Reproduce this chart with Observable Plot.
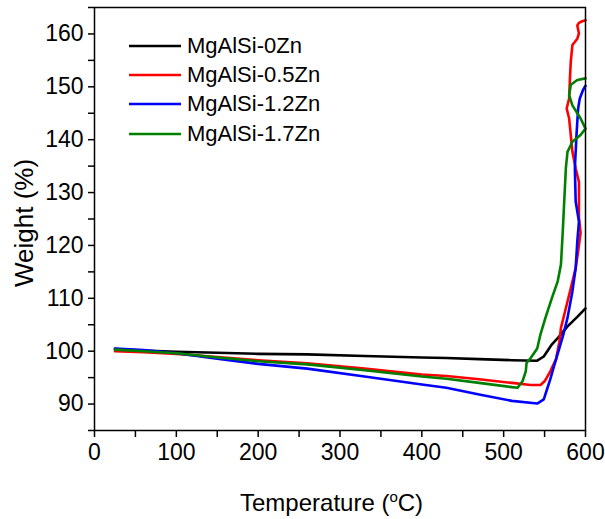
<!DOCTYPE html>
<html><head><meta charset="utf-8">
<script src="https://cdn.jsdelivr.net/npm/d3@7"></script>
<script src="https://cdn.jsdelivr.net/npm/@observablehq/plot@0.6"></script>
<style>
body{margin:0;background:#fff;}
#wrap{position:relative;width:605px;height:519px;font-family:"Liberation Sans",Arial,sans-serif;}
#legend{position:absolute;left:129px;top:31px;}
.item{display:flex;align-items:center;height:29.3px;font-size:22px;color:#000;}
.item svg{margin-right:6px;display:block}
</style></head><body><div id="wrap"><div id="legend"></div></div>
<script>
const seriesNames = ["MgAlSi-0Zn", "MgAlSi-0.5Zn", "MgAlSi-1.2Zn", "MgAlSi-1.7Zn"];
const seriesColors = ["#000000", "#ff0000", "#0000ff", "#008000"];

// [temperature °C, weight %]
const zn0 = [[25,100.4],[60,100.1],[100,99.9],[150,99.7],[200,99.5],[260,99.4],[330,99.1],[400,98.8],[430,98.7],[470,98.5],[510,98.3],[541,98.2],[549,99.0],[559,101.3],[568,102.8],[578,104.7],[590,106.5],[600,108.1]];
const zn05 = [[25,100.0],[60,99.8],[100,99.5],[150,98.9],[200,98.3],[260,97.7],[330,96.7],[400,95.6],[430,95.3],[470,94.7],[510,94.0],[533,93.6],[545,93.6],[550,94.3],[557,96.2],[564,98.5],[568,101.7],[570,104.4],[574,106.9],[578,109.4],[582,111.9],[588,115.7],[591,118.9],[594,122.4],[592,125.2],[592,128.5],[592,132.0],[588,134.6],[584,137.7],[582,140.9],[580,144.0],[577,145.9],[580,147.8],[581,151.6],[582,154.7],[584,157.9],[590,159.1],[592,160.1],[590,161.6],[592,162.1],[596,162.4],[600,162.6]];
const zn12 = [[25,100.5],[60,100.2],[100,99.6],[150,98.6],[200,97.6],[260,96.7],[330,95.2],[400,93.7],[430,93.1],[470,91.8],[510,90.6],[541,90.1],[549,90.9],[553,92.8],[557,94.7],[561,96.9],[567,100.0],[573,103.2],[578,106.3],[584,111.3],[588,115.7],[590,120.8],[592,124.5],[588,128.3],[587,134.6],[589,140.9],[591,145.9],[593,147.8],[597,149.4],[600,150.2]];
const zn17 = [[25,100.3],[60,100.0],[100,99.6],[150,98.8],[200,98.1],[260,97.5],[330,96.4],[400,95.2],[430,94.8],[470,94.0],[510,93.2],[517,93.1],[523,94.3],[527,96.2],[528,97.8],[533,98.7],[541,100.5],[545,103.2],[551,106.3],[559,110.1],[566,113.2],[570,116.4],[572,122.0],[574,128.3],[576,134.6],[578,137.7],[584,139.6],[594,140.9],[600,142.1],[594,144.0],[584,146.5],[580,148.4],[582,150.4],[590,151.3],[600,151.6]];

const xTicks = d3.range(0, 601, 50);
const yTicks = d3.range(85, 166, 5);
const xTitle = "Temperature (";
const xUnit = ["o", "C)"];
const yTitle = "Weight (%)";

const allSeries = [zn0, zn05, zn12, zn17];
const rows = allSeries.flatMap((s, i) => s.map(([t, w]) => ({series: seriesNames[i], t, w})));

const chart = Plot.plot({
  width: 605, height: 519,
  marginLeft: 94, marginRight: 20, marginTop: 7, marginBottom: 89,
  style: {fontFamily: "Liberation Sans, Arial, sans-serif", fontSize: "23px", color: "black", background: "white"},
  x: {domain: [0, 600]},
  y: {domain: [85, 165]},
  color: {domain: seriesNames, range: seriesColors},
  marks: [
    Plot.axisX({ticks: xTicks, tickFormat: d => d % 100 === 0 ? d : "", tickSize: 7, tickPadding: 6, label: null, strokeWidth: 1.5}),
    Plot.axisY({ticks: yTicks, tickFormat: d => d % 10 === 0 ? d : "", tickSize: 6, tickPadding: 5, label: null, strokeWidth: 1.5}),
    Plot.line(rows, {x: "t", y: "w", z: "series", stroke: "series", strokeWidth: 2.6}),
    Plot.frame({stroke: "black", strokeWidth: 1.5})
  ]
});

const svg = d3.select(chart);
svg.append("text")
  .attr("transform", "translate(33,223) rotate(-90)")
  .attr("text-anchor", "middle")
  .attr("font-size", 26)
  .attr("fill", "black")
  .text(yTitle);
const xt = svg.append("text")
  .attr("x", 240).attr("y", 511)
  .attr("text-anchor", "start")
  .attr("font-size", 24)
  .attr("fill", "black");
xt.append("tspan").text(xTitle);
xt.append("tspan").attr("font-size", 15).attr("dy", -9).text(xUnit[0]);
xt.append("tspan").attr("dy", 9).text(xUnit[1]);

document.getElementById("wrap").prepend(chart);

const legend = d3.select("#legend");
seriesNames.forEach((name, i) => {
  const item = legend.append("div").attr("class", "item");
  const s = item.append("svg").attr("width", 52).attr("height", 6);
  s.append("line").attr("x1", 0).attr("x2", 52).attr("y1", 3).attr("y2", 3)
    .attr("stroke", seriesColors[i]).attr("stroke-width", 2.6);
  item.append("span").text(name);
});
</script>
</body></html>
